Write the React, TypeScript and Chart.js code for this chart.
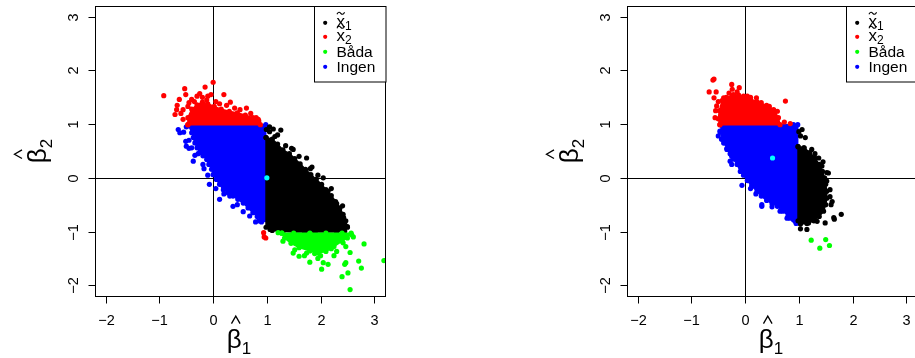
import React, { useEffect, useRef } from "react";
import { Chart, registerables } from "chart.js";

Chart.register(...registerables);

type Pt = [number, number];

// Shared axis range and ticks (R style: limits -2..3 widened by 4 %)
const AXIS_MIN = -2.2;
const AXIS_MAX = 3.2;
const TICK_VALUES = [-2, -1, 0, 1, 2, 3];
const TICK_LABELS = ["\u22122", "\u22121", "0", "1", "2", "3"];

// Legend entries
const LEGEND_BASE = ["x", "x", "Båda", "Ingen"];
const LEGEND_SUB = ["1", "2", "", ""];
const LEGEND_TILDE = [true, true, false, false];

// Axis titles: beta-hat with subscript
const X_TITLE_SUB = "1";
const Y_TITLE_SUB = "2";

// ---------- left panel ----------
const redCoreL: Pt[] = [
  [-0.47, 0.99], [0.88, 0.99],
  [0.85, 1.06], [0.74, 1.12], [0.6, 1.17], [0.45, 1.21], [0.3, 1.24], [0.15, 1.28], [0.02, 1.33], [-0.1, 1.38],
  [-0.2, 1.41], [-0.3, 1.36], [-0.4, 1.28], [-0.47, 1.12],
];
const redPtsL: Pt[] = [
  [-0.92, 1.53], [-0.53, 1.66], [-0.63, 1.46], [-0.67, 1.35], [-0.71, 1.18], [-0.51, 1.55], [-0.4, 1.46],
  [-0.15, 1.69], [0, 1.78], [-0.04, 1.55], [0.2, 1.55], [0.32, 1.41], [0.62, 1.3], [0.8, 1.12], [0.84, 1.09],
  [-0.25, 1.57], [-0.3, 1.52], [-0.2, 1.5], [-0.1, 1.52], [-0.68, 1.27], [-0.56, 1.27], [-0.47, 1.33],
  [-0.56, 1.09], [-0.6, 1.2], [-0.35, 1.42], [-0.12, 1.45], [0.05, 1.42], [0.12, 1.38], [0.25, 1.35],
  [0.4, 1.3], [0.5, 1.27], [0.7, 1.2], [-0.45, 1.4],
  [0.94, -1.02], [0.98, -1.12], [0.95, -1.1],
];
const blueCoreL: Pt[] = [
  [-0.45, 0.97], [0.98, 0.99], [0.97, -0.78],
  [0.9, -0.78], [0.82, -0.72], [0.74, -0.65], [0.65, -0.56], [0.56, -0.47], [0.46, -0.4], [0.37, -0.34],
  [0.28, -0.28], [0.19, -0.22], [0.12, -0.12], [0.06, -0.03], [0.0, 0.06], [-0.03, 0.16], [-0.08, 0.25],
  [-0.12, 0.34], [-0.19, 0.41], [-0.25, 0.47], [-0.3, 0.56], [-0.34, 0.65], [-0.37, 0.75], [-0.4, 0.84],
];
const bluePtsL: Pt[] = [
  [-0.65, 0.9], [-0.62, 0.84], [-0.51, 0.68], [-0.5, 0.59], [-0.4, 0.56], [-0.34, 0.42], [-0.37, 0.31],
  [-0.19, 0.25], [-0.17, 0.17], [-0.07, -0.12], [0.12, -0.4], [0.37, -0.53], [0.56, -0.63], [0.68, -0.71],
  [0.79, -0.82], [0.31, -0.34], [0.98, 0.96], [-0.45, 0.7], [-0.28, 0.45], [-0.45, 0.55], [-0.1, 0.05],
  [0.05, -0.2], [0.2, -0.3], [0.45, -0.5], [0.85, -0.8], [0.9, -0.82], [-0.55, 0.85], [-0.5, 0.95],
];
const blackCoreL: Pt[] = [
  [0.985, 0.75], [1.1, 0.72], [1.2, 0.63], [1.3, 0.52], [1.42, 0.45], [1.52, 0.36], [1.62, 0.26], [1.72, 0.16],
  [1.82, 0.06], [1.92, -0.03], [2.02, -0.12], [2.1, -0.22], [2.2, -0.33], [2.28, -0.44], [2.36, -0.56],
  [2.42, -0.68], [2.47, -0.8], [2.5, -0.92], [2.45, -0.99],
  [2.3, -1.01], [2.1, -1.01], [1.9, -1.01], [1.7, -1.01], [1.5, -1.01], [1.3, -1.0], [1.1, -0.98], [0.985, -0.92],
];
const blackPtsL: Pt[] = [
  [0.99, 0.9], [1.12, 0.91], [1.26, 0.89], [1.05, 0.86], [1.15, 0.77], [1.49, 0.53], [1.46, 0.55], [1.74, 0.37],
  [1.81, 0.17], [1.84, 0.2], [2.14, -0.25], [2.3, -0.48], [2.41, -0.52], [2.43, -0.74], [2.5, -0.91],
  [1.06, -0.96], [1.1, -0.95], [1.35, 0.6], [1.6, 0.4], [1.95, 0.05], [2.2, -0.2], [2.05, 0.0], [2.35, -0.6],
  [2.4, -0.85], [1.2, 0.8], [1.05, 0.95],
];
const greenCoreL: Pt[] = [
  [1.28, -1.03], [1.5, -1.03], [1.8, -1.03], [2.1, -1.03], [2.4, -1.03], [2.57, -1.03],
  [2.5, -1.12], [2.4, -1.18], [2.25, -1.28], [2.1, -1.37], [1.95, -1.4], [1.8, -1.36], [1.6, -1.3],
  [1.45, -1.22], [1.33, -1.12],
];
const greenPtsL: Pt[] = [
  [1.21, -1.02], [1.3, -1.18], [1.49, -1.4], [1.6, -1.46], [1.8, -1.57], [2.02, -1.7], [2.14, -1.61],
  [2.05, -1.58], [2.3, -1.37], [2.4, -1.84], [2.45, -1.61], [2.47, -1.58], [2.51, -1.77], [2.55, -2.08],
  [2.55, -1.39], [2.58, -1.06], [2.61, -1.1], [2.71, -1.55], [2.76, -1.68], [2.81, -1.23], [3.18, -1.54],
  [2.42, -1.21], [2.47, -1.28], [2.2, -1.32], [1.89, -1.41], [1.74, -1.4], [1.52, -1.34], [1.95, -1.5],
  [2.25, -1.45], [2.0, -1.45], [1.7, -1.45],
];
const truthL: Pt[] = [[1, 0]];

// ---------- right panel ----------
const redCoreR: Pt[] = [
  [-0.47, 0.99], [0.65, 0.99],
  [0.62, 1.12], [0.53, 1.27], [0.4, 1.35], [0.22, 1.42], [0.1, 1.47], [-0.03, 1.52], [-0.12, 1.54],
  [-0.22, 1.55], [-0.35, 1.5], [-0.43, 1.44], [-0.48, 1.25], [-0.5, 1.1],
];
const redPtsR: Pt[] = [
  [-0.6, 1.82], [-0.58, 1.84], [-0.67, 1.6], [-0.54, 1.6], [-0.58, 1.49], [-0.4, 1.49], [-0.25, 1.74],
  [-0.11, 1.68], [-0.24, 1.65], [0.04, 1.52], [0.21, 1.49], [0.75, 1.43], [0.6, 1.24], [0.73, 1.04],
  [0.84, 1.01], [-0.56, 1.12], [-0.55, 1.25], [-0.53, 1.34], [-0.5, 1.42], [0.3, 1.4], [0.45, 1.33],
  [0.55, 1.2], [-0.3, 1.58], [-0.15, 1.6], [0.1, 1.5],
];
const blueCoreR: Pt[] = [
  [-0.45, 0.99], [0.98, 0.99], [0.97, -0.8],
  [0.9, -0.78], [0.8, -0.7], [0.7, -0.62], [0.6, -0.53], [0.5, -0.48], [0.4, -0.42], [0.3, -0.34], [0.22, -0.25],
  [0.12, -0.15], [0.04, -0.05], [-0.03, 0.05], [-0.09, 0.12], [-0.15, 0.25], [-0.22, 0.35], [-0.28, 0.45],
  [-0.34, 0.55], [-0.38, 0.65], [-0.42, 0.72], [-0.46, 0.85],
];
const bluePtsR: Pt[] = [
  [-0.47, 0.87], [-0.44, 0.72], [-0.5, 0.78], [-0.34, 0.53], [-0.25, 0.25], [-0.28, 0.31], [-0.25, 0.4],
  [-0.06, -0.14], [0.31, -0.5], [0.31, -0.53], [0.5, -0.54], [0.65, -0.62], [0.78, -0.75], [0.83, -0.75],
  [0.93, -0.81], [0.9, 0.99], [0.2, -0.3], [0.1, -0.2], [-0.4, 0.65], [0.95, -0.85],
];
const blackCoreR: Pt[] = [
  [0.985, 0.58], [1.1, 0.56], [1.2, 0.47], [1.3, 0.37], [1.38, 0.25], [1.44, 0.12], [1.48, 0.0], [1.5, -0.12],
  [1.52, -0.25], [1.52, -0.38], [1.5, -0.5], [1.46, -0.62], [1.38, -0.72], [1.28, -0.8], [1.15, -0.85],
  [1.03, -0.86], [0.985, -0.8],
];
const blackPtsR: Pt[] = [
  [1.06, 0.9], [1.12, 0.75], [1.03, 0.78], [1.0, 0.86], [1.09, 0.56], [1.24, 0.53], [1.37, 0.37], [1.43, 0.22],
  [1.55, 0.09], [1.52, 0.1], [1.52, -0.06], [1.58, -0.22], [1.62, -0.44], [1.66, -0.77], [1.65, -0.74],
  [1.79, -0.68], [1.49, -0.84], [1.34, -0.81], [1.18, -0.84], [1.15, -0.96], [1.03, -0.95], [1.24, -0.78],
  [1.6, -0.5], [1.58, -0.35], [1.45, 0.3], [1.3, 0.45],
];
const greenCoreR: Pt[] = [];
const greenPtsR: Pt[] = [[1.23, -1.16], [1.39, -1.31], [1.5, -1.15], [1.57, -1.26]];
const truthR: Pt[] = [[0.51, 0.37]];

const COL = {
  x1: "#000000",
  x2: "#ff0000",
  both: "#00ff00",
  none: "#0000ff",
  truth: "#00ffff",
};
const LEGEND_COLORS = [COL.x1, COL.x2, COL.both, COL.none];

const FONT = "'Liberation Sans', Arial, Helvetica, sans-serif";
const PT_R = 2.6;

const toXY = (pts: Pt[]) => pts.map(([x, y]) => ({ x, y }));

function pointSet(pts: Pt[], color: string) {
  return {
    data: toXY(pts),
    showLine: false,
    pointRadius: PT_R,
    pointHoverRadius: PT_R,
    pointBorderWidth: 0,
    pointBackgroundColor: color,
    backgroundColor: color,
    borderColor: color,
  };
}

// dense part of a cloud: closed polygon filled through the line element
function coreSet(pts: Pt[], color: string) {
  const ring = pts.length ? [...pts, pts[0]] : [];
  return {
    data: toXY(ring),
    showLine: true,
    fill: "shape",
    tension: 0,
    borderWidth: 1.5,
    borderColor: color,
    backgroundColor: color,
    pointRadius: PT_R,
    pointHoverRadius: PT_R,
    pointBorderWidth: 0,
    pointBackgroundColor: color,
  };
}

function drawHatTitle(ctx: CanvasRenderingContext2D, tx: number, ty: number, sub: string, rotate: boolean) {
  ctx.save();
  ctx.translate(tx, ty);
  if (rotate) ctx.rotate(-Math.PI / 2);
  ctx.fillStyle = "#000";
  ctx.strokeStyle = "#000";
  ctx.textAlign = "left";
  ctx.textBaseline = "alphabetic";
  ctx.font = `26px ${FONT}`;
  const wb = ctx.measureText("\u03B2").width;
  ctx.font = `17px ${FONT}`;
  const ws = ctx.measureText(sub).width;
  const x0 = -(wb + ws) / 2;
  ctx.font = `26px ${FONT}`;
  ctx.fillText("\u03B2", x0, 0);
  ctx.font = `17px ${FONT}`;
  ctx.fillText(sub, x0 + wb, 6);
  const hx = x0 + wb / 2 + 1.5;
  ctx.lineWidth = 1.3;
  ctx.beginPath();
  ctx.moveTo(hx - 4.3, -24);
  ctx.lineTo(hx, -31.5);
  ctx.lineTo(hx + 4.3, -24);
  ctx.stroke();
  ctx.restore();
}

const rBasePlugin = {
  id: "rBase",
  beforeDatasetsDraw(chart: any) {
    const { ctx, chartArea: a, scales } = chart;
    const x0 = Math.round(scales.x.getPixelForValue(0)) + 0.5;
    const y0 = Math.round(scales.y.getPixelForValue(0)) + 0.5;
    ctx.save();
    ctx.strokeStyle = "#000";
    ctx.lineWidth = 1;
    ctx.beginPath();
    ctx.moveTo(x0, a.top);
    ctx.lineTo(x0, a.bottom);
    ctx.moveTo(a.left, y0);
    ctx.lineTo(a.right, y0);
    ctx.stroke();
    ctx.restore();
  },
  afterDraw(chart: any) {
    const { ctx, chartArea: a, scales } = chart;
    const L = Math.round(a.left) + 0.5;
    const R = Math.round(a.right) + 0.5;
    const T = Math.round(a.top) + 0.5;
    const B = Math.round(a.bottom) + 0.5;
    ctx.save();
    ctx.strokeStyle = "#000";
    ctx.fillStyle = "#000";
    ctx.lineWidth = 1;
    // plot box
    ctx.strokeRect(L, T, R - L, B - T);

    // ticks and labels
    ctx.font = `14.5px ${FONT}`;
    ctx.textAlign = "center";
    ctx.textBaseline = "alphabetic";
    TICK_VALUES.forEach((v, i) => {
      const px = Math.round(scales.x.getPixelForValue(v)) + 0.5;
      ctx.beginPath();
      ctx.moveTo(px, B);
      ctx.lineTo(px, B + 7);
      ctx.stroke();
      ctx.fillText(TICK_LABELS[i], px, B + 28);

      const py = Math.round(scales.y.getPixelForValue(v)) + 0.5;
      ctx.beginPath();
      ctx.moveTo(L, py);
      ctx.lineTo(L - 7, py);
      ctx.stroke();
      ctx.save();
      ctx.translate(L - 17.5, py);
      ctx.rotate(-Math.PI / 2);
      ctx.fillText(TICK_LABELS[i], 0, 0);
      ctx.restore();
    });

    // axis titles
    drawHatTitle(ctx, (a.left + a.right) / 2 - 1, a.bottom + 51.6, X_TITLE_SUB, false);
    drawHatTitle(ctx, a.left - 49, (a.top + a.bottom) / 2, Y_TITLE_SUB, true);

    // legend (top right, inset 0)
    const lw = 71.5;
    const lh = 75.5;
    const lx = Math.round(a.right - lw) + 0.5;
    const ly = T;
    ctx.fillStyle = "#fff";
    ctx.fillRect(lx, ly, lw, lh);
    ctx.strokeStyle = "#000";
    ctx.strokeRect(lx, ly, lw, lh);
    const rows = [16.3, 30.3, 45.3, 60.3];
    LEGEND_BASE.forEach((txt, i) => {
      const ry = ly + rows[i];
      ctx.fillStyle = LEGEND_COLORS[i];
      ctx.beginPath();
      ctx.arc(lx + 10.7, ry, 2.1, 0, Math.PI * 2);
      ctx.fill();
      ctx.fillStyle = "#000";
      ctx.textAlign = "left";
      const tx = lx + 22;
      if (LEGEND_TILDE[i]) {
        ctx.font = `17px ${FONT}`;
        const wx = ctx.measureText(txt).width;
        ctx.fillText(txt, tx, ry + 4.5);
        // tilde accent
        const cx = tx + wx / 2;
        const cy = ry - 9.5;
        ctx.lineWidth = 1.1;
        ctx.beginPath();
        ctx.moveTo(cx - 3.8, cy + 1);
        ctx.bezierCurveTo(cx - 2.6, cy - 1.8, cx - 1, cy - 1.2, cx, cy);
        ctx.bezierCurveTo(cx + 1, cy + 1.2, cx + 2.6, cy + 1.8, cx + 3.8, cy - 1);
        ctx.stroke();
        ctx.font = `12px ${FONT}`;
        ctx.fillText(LEGEND_SUB[i], tx + wx, ry + 7.5);
      } else {
        ctx.font = `15.5px ${FONT}`;
        ctx.fillText(txt, tx, ry + 5.4);
      }
    });
    ctx.restore();
  },
};

interface PanelData {
  truth: Pt[];
  redPts: Pt[];
  redCore: Pt[];
  greenPts: Pt[];
  greenCore: Pt[];
  blackPts: Pt[];
  blackCore: Pt[];
  bluePts: Pt[];
  blueCore: Pt[];
}

function makeChart(canvas: HTMLCanvasElement, d: PanelData, padding: any) {
  const datasets: any[] = [
    pointSet(d.truth, COL.truth),
    pointSet(d.redPts, COL.x2),
    coreSet(d.redCore, COL.x2),
    pointSet(d.greenPts, COL.both),
    coreSet(d.greenCore, COL.both),
    pointSet(d.blackPts, COL.x1),
    coreSet(d.blackCore, COL.x1),
    pointSet(d.bluePts, COL.none),
    coreSet(d.blueCore, COL.none),
  ];
  return new Chart(canvas, {
    type: "scatter",
    data: { datasets },
    options: {
      animation: false,
      responsive: false,
      devicePixelRatio: 1,
      events: [],
      layout: { padding },
      plugins: { legend: { display: false }, tooltip: { enabled: false } },
      scales: {
        x: { type: "linear", min: AXIS_MIN, max: AXIS_MAX, display: false },
        y: { type: "linear", min: AXIS_MIN, max: AXIS_MAX, display: false },
      },
    },
    plugins: [rBasePlugin],
  } as any);
}

export default function App() {
  const leftRef = useRef<HTMLCanvasElement>(null);
  const rightRef = useRef<HTMLCanvasElement>(null);

  useEffect(() => {
    const left = makeChart(
      leftRef.current!,
      {
        truth: truthL, redPts: redPtsL, redCore: redCoreL, greenPts: greenPtsL, greenCore: greenCoreL,
        blackPts: blackPtsL, blackCore: blackCoreL, bluePts: bluePtsL, blueCore: blueCoreL,
      },
      { left: 95, right: 75, top: 6, bottom: 62 }
    );
    const right = makeChart(
      rightRef.current!,
      {
        truth: truthR, redPts: redPtsR, redCore: redCoreR, greenPts: greenPtsR, greenCore: greenCoreR,
        blackPts: blackPtsR, blackCore: blackCoreR, bluePts: bluePtsR, blueCore: blueCoreR,
      },
      { left: 167, right: 13, top: 6, bottom: 62 }
    );
    return () => {
      left.destroy();
      right.destroy();
    };
  }, []);

  return (
    <div
      style={{
        position: "fixed",
        left: 0,
        top: 0,
        width: 915,
        height: 358,
        overflow: "hidden",
        background: "#fff",
      }}
    >
      <canvas ref={leftRef} width={460} height={358} style={{ position: "absolute", left: 0, top: 0 }} />
      <canvas ref={rightRef} width={470} height={358} style={{ position: "absolute", left: 460, top: 0 }} />
    </div>
  );
}
